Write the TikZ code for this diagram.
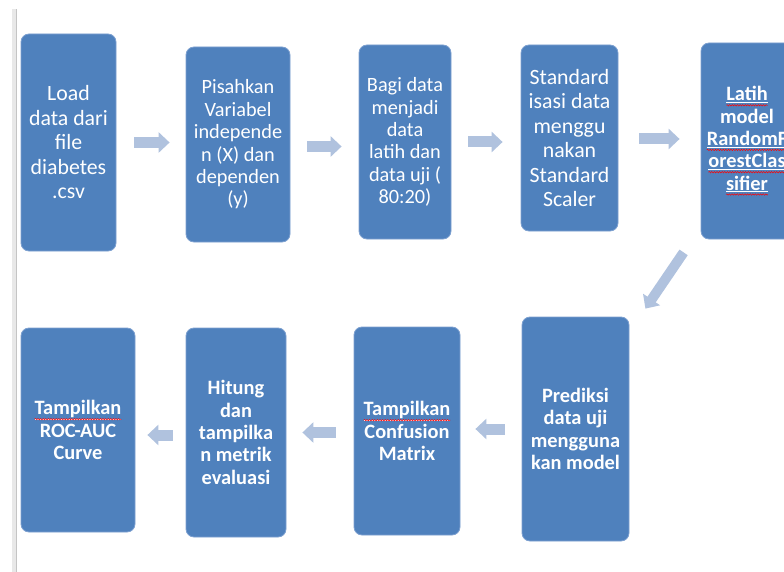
\documentclass[tikz,border=0pt]{standalone}
\usepackage{fontspec}
\setmainfont{Carlito}
\usetikzlibrary{arrows.meta,calc,decorations.pathmorphing}
\definecolor{boxblue}{RGB}{79,129,189}
\definecolor{boxedge}{RGB}{125,160,208}
\definecolor{arrblue}{RGB}{176,194,222}
\definecolor{barlight}{RGB}{232,232,232}
\definecolor{bardark}{RGB}{196,196,196}
\newcommand\spw[1]{\tikz[baseline=(w.base),x=1pt,y=1pt]{\node[shape=rectangle, inner sep=0pt, outer sep=0pt,
    minimum width=0pt, minimum height=0pt, draw=none, fill=none, text=white, anchor=center] (w) at (0,0) {\underline{#1}};
  \draw[red, line width=0.5pt, fill=none, rounded corners=0pt, decorate,
    decoration={snake,amplitude=0.7pt,segment length=2.6pt}]
    ([yshift=-4.4pt]w.base west) -- ([yshift=-4.4pt]w.base east);}}
\tikzset{
  stepbox/.style={draw=boxedge, line width=0.8pt, fill=boxblue, rounded corners=8pt,
    text=white, align=center, inner sep=0pt},
  bigtxt/.style={font=\fontsize{21.8}{24.5}\selectfont},
  midtxt/.style={font=\fontsize{20.3}{22.4}\selectfont},
  boldtxt/.style={font=\fontsize{20.4}{22.3}\selectfont\bfseries},
  blockarrow/.style={draw=arrblue, line width=11pt,
    -{Triangle[length=11pt,width=20pt]}},
}
\begin{document}
\begin{tikzpicture}[x=1pt,y=-1pt]
\useasboundingbox (0,0) rectangle (784,572);
\clip (0,0) rectangle (784,572);
% left page edge
\fill[barlight] (12,9) rectangle (17,572);
\fill[bardark] (15.5,9) rectangle (16.5,572);
% top row
\node[stepbox, bigtxt, minimum width=95pt, minimum height=217pt] (b1) at (68.5,142.5)
  {Load\\data dari\\file\\diabetes\\.csv};
\node[stepbox, midtxt, minimum width=104pt, minimum height=195pt] (b2) at (238,144.5)
  {Pisahkan\\Variabel\\independe\\n (X) dan\\dependen\\(y)};
\node[stepbox, midtxt, minimum width=92pt, minimum height=194pt] (b3) at (405,142)
  {Bagi data\\menjadi\\data\\latih dan\\data uji (\\80:20)};
\node[stepbox, bigtxt, minimum width=97pt, minimum height=186pt] (b4) at (569.5,138)
  {Standard\\isasi data\\menggu\\nakan\\Standard\\Scaler};
\node[stepbox, boldtxt, minimum width=92pt, minimum height=196pt] (b5) at (747,141)
  {\spw{Latih}\\model\\\spw{RandomF}\\\spw{orestClas}\\\spw{sifier}};
% bottom row
\node[stepbox, boldtxt, minimum width=107pt, minimum height=224pt] (b6) at (575.5,429)
  {Prediksi\\data uji\\mengguna\\kan model};
\node[stepbox, boldtxt, minimum width=106pt, minimum height=208pt] (b7) at (407,431)
  {\spw{Tampilkan}\\Confusion\\Matrix};
\node[stepbox, boldtxt, minimum width=100pt, minimum height=209pt] (b8) at (236,432.5)
  {Hitung\\dan\\tampilka\\n metrik\\evaluasi};
\node[stepbox, boldtxt, minimum width=114pt, minimum height=204pt] (b9) at (78,430)
  {\spw{Tampilkan}\\ROC-AUC\\Curve};
% arrows
\draw[blockarrow, shorten <=18pt, shorten >=16pt] (b1.east) -- (b1.east -| b2.west);
\draw[blockarrow, shorten <=17pt, shorten >=17pt] ([yshift=-2pt]b2.east) -- ([yshift=-2pt]b2.east -| b3.west);
\draw[blockarrow, shorten <=17pt, shorten >=18pt] (b3.east) -- (b3.east -| b4.west);
\draw[blockarrow, shorten <=21pt, shorten >=21pt] ([yshift=-1pt]b4.east) -- ([yshift=-1pt]b4.east -| b5.west);
\draw[blockarrow, line width=10pt] ($(b5.south west)+(-17,13)$) -- ($(b6.north east)+(16,-8)$);
\draw[blockarrow, shorten <=17pt, shorten >=15pt] (b6.west) -- (b6.west -| b7.east);
\draw[blockarrow, shorten <=18pt, shorten >=16pt] ([yshift=-1.5pt]b7.west) -- ([yshift=-1.5pt]b7.west -| b8.east);
\draw[blockarrow, shorten <=13pt, shorten >=12pt] ([yshift=-2.5pt]b8.west) -- ([yshift=-2.5pt]b8.west -| b9.east);
\end{tikzpicture}
\end{document}
